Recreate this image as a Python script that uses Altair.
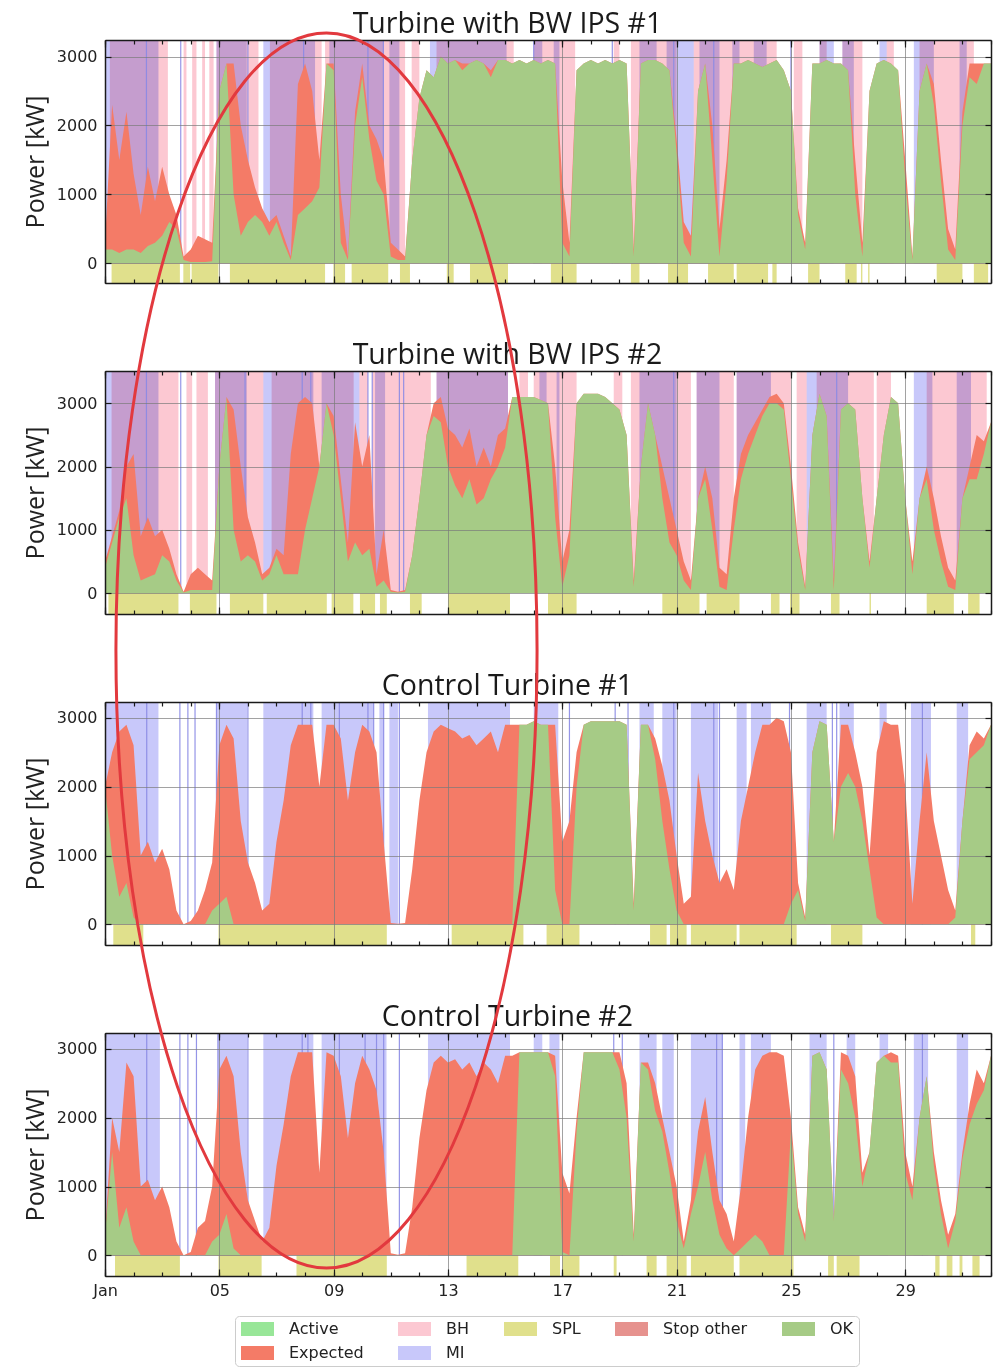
import altair as alt
import pandas as pd

# ---------------- data ----------------
N_DAYS = 31
STEP = 0.25  # 6-hourly samples, days since 1 Jan
T = [i * STEP for i in range(int(N_DAYS / STEP) + 1)]

MAJOR_DAYS = [0, 4, 8, 12, 16, 20, 24, 28]
MINOR_DAYS = list(range(0, 32))
Y_TICKS = [0, 1000, 2000, 3000]

TITLES = ["Turbine with BW IPS #1", "Turbine with BW IPS #2",
          "Control Turbine #1", "Control Turbine #2"]
Y_DOMAINS = [[-285, 3240], [-330, 3510], [-300, 3230], [-300, 3230]]

P1_EXPECTED = [
    300, 2300, 1500, 2200, 1300, 700, 1400, 900,
    1400, 1000, 700, 100, 200, 400, 350, 300,
    2500, 2900, 2900, 2000, 1500, 1100, 800, 600,
    700, 400, 100, 2600, 2900, 2500, 1500, 2900,
    2900, 1000, 100, 2200, 2900, 2000, 1800, 1500,
    300, 200, 100, 1500, 2400, 2800, 2700, 3000,
    2900, 2950, 2900, 2900, 2950, 2900, 2800, 2950,
    2950, 2900, 2950, 2900, 2950, 2900, 2950, 2900,
    1200, 300, 2800, 2900, 2950, 2900, 2950, 2900,
    2950, 2900, 200, 2900, 2950, 2950, 2900, 2800,
    1800, 600, 400, 2500, 2900, 2000, 500, 1500,
    2900, 2900, 2950, 2900, 2850, 2900, 2950, 2800,
    2500, 800, 300, 2900, 2900, 2950, 2900, 2900,
    2800, 1500, 300, 2500, 2900, 2950, 2900, 2800,
    1500, 100, 2500, 2900, 2600, 1500, 500, 200,
    2200, 2900, 2900, 2900, 2900]
P1_OK = [
    200, 200, 150, 200, 200, 150, 250, 300,
    400, 600, 500, 50, 20, 20, 20, 30,
    2500, 2900, 1000, 400, 600, 700, 600, 400,
    600, 300, 50, 700, 800, 900, 1100, 2900,
    2800, 300, 50, 2000, 2700, 1800, 1200, 1000,
    100, 50, 50, 1500, 2400, 2800, 2700, 3000,
    2900, 2950, 2800, 2900, 2950, 2900, 2700, 2950,
    2950, 2900, 2950, 2900, 2950, 2900, 2950, 2900,
    300, 100, 2800, 2900, 2950, 2900, 2950, 2900,
    2950, 2900, 100, 2900, 2950, 2950, 2900, 2800,
    1600, 300, 100, 2500, 2900, 1500, 100, 1200,
    2900, 2900, 2950, 2900, 2850, 2900, 2950, 2800,
    2500, 700, 200, 2900, 2900, 2950, 2900, 2900,
    2800, 1000, 100, 2500, 2900, 2950, 2900, 2800,
    1200, 50, 2500, 2900, 2300, 1200, 200, 50,
    2000, 2700, 2600, 2900, 2900]

P2_EXPECTED = [
    500, 900, 1300, 2000, 2200, 900, 1200, 900,
    1000, 700, 300, 20, 300, 400, 300, 200,
    2000, 3100, 2900, 2000, 1200, 800, 300, 400,
    700, 600, 2200, 3000, 3100, 3000, 2000, 3000,
    2800, 1800, 800, 2700, 2000, 2500, 300, 1000,
    50, 20, 50, 600, 1500, 2500, 3000, 3100,
    2600, 2500, 2300, 2600, 2000, 2300, 2000, 2500,
    2600, 3100, 3100, 3100, 3100, 3050, 3000, 2000,
    500, 1000, 3000, 3150, 3150, 3150, 3100, 3000,
    2900, 2500, 200, 2000, 3000, 2500, 2000, 1500,
    1000, 500, 200, 1500, 2000, 1500, 400, 300,
    1500, 2200, 2500, 2700, 2900, 3100, 3150, 3000,
    2000, 800, 100, 2500, 3150, 2800, 200, 2900,
    3000, 2900, 1500, 500, 1500, 2500, 3100, 3000,
    1500, 500, 1500, 2000, 1500, 900, 400, 200,
    1500, 2000, 2500, 2400, 2700]
P2_OK = [
    400, 800, 1200, 1500, 600, 200, 250, 300,
    600, 500, 200, 10, 50, 50, 50, 50,
    2000, 3100, 1000, 500, 600, 500, 200, 300,
    600, 300, 300, 300, 1000, 1500, 2000, 3000,
    2500, 1500, 500, 800, 600, 700, 100, 200,
    20, 10, 20, 600, 1500, 2500, 2800, 2700,
    2000, 1700, 1500, 1800, 1400, 1500, 1800, 2000,
    2300, 3100, 3100, 3100, 3100, 3050, 3000, 1200,
    100, 600, 3000, 3150, 3150, 3150, 3100, 3000,
    2900, 2500, 100, 2000, 3000, 2500, 1500, 800,
    600, 200, 50, 1500, 1800, 1000, 100, 50,
    1000, 1800, 2200, 2500, 2800, 3000, 3000, 2900,
    1800, 700, 50, 2500, 3150, 2800, 50, 2900,
    3000, 2900, 1500, 400, 1500, 2500, 3100, 3000,
    1500, 300, 1500, 1800, 1000, 500, 100, 50,
    1500, 1800, 1800, 2200, 2700]

P3_EXPECTED = [
    2000, 2500, 2800, 2900, 2600, 1000, 1200, 900,
    1100, 800, 200, 0, 50, 200, 500, 900,
    2600, 2900, 2700, 1500, 900, 600, 200, 300,
    1200, 1800, 2600, 2900, 2900, 2900, 2000, 2900,
    2900, 2700, 1800, 2500, 2900, 2800, 2500, 1200,
    20, 10, 20, 800, 1800, 2500, 2800, 2900,
    2850, 2800, 2700, 2750, 2600, 2700, 2800, 2500,
    2900, 2900, 2900, 2900, 2950, 2900, 2900, 2900,
    1200, 1500, 2500, 2900, 2950, 2950, 2950, 2950,
    2950, 2900, 300, 2900, 2900, 2700, 2300, 1800,
    1000, 300, 400, 2200, 1500, 1000, 600, 800,
    500, 1500, 2000, 2500, 2900, 2900, 3000, 2950,
    2500, 600, 100, 2500, 2950, 2900, 1200, 2900,
    2900, 2500, 2000, 1000, 2500, 2950, 2900, 2900,
    2000, 300, 1500, 2500, 1500, 1000, 500, 200,
    1500, 2600, 2800, 2700, 2900]
P3_OK = [
    2000, 1000, 400, 600, 100, 0, 0, 0,
    0, 0, 0, 0, 0, 0, 0, 200,
    300, 400, 0, 0, 0, 0, 0, 0,
    0, 0, 0, 0, 0, 0, 0, 0,
    0, 0, 0, 0, 0, 0, 0, 0,
    0, 0, 0, 0, 0, 0, 0, 0,
    0, 0, 0, 0, 0, 0, 0, 0,
    0, 0, 2900, 2900, 2950, 2900, 2900, 500,
    0, 0, 2000, 2900, 2950, 2950, 2950, 2950,
    2950, 2900, 200, 2900, 2900, 2400, 1500, 800,
    200, 0, 0, 0, 0, 0, 0, 0,
    0, 0, 0, 0, 0, 0, 0, 0,
    300, 500, 50, 2500, 2950, 2900, 1200, 2000,
    2200, 2000, 1500, 800, 100, 0, 0, 0,
    0, 0, 0, 0, 0, 0, 0, 100,
    1500, 2400, 2500, 2600, 2900]

P4_EXPECTED = [
    300, 2000, 1500, 2800, 2600, 1000, 1100, 800,
    1000, 700, 200, 0, 50, 400, 500, 1000,
    2700, 2900, 2600, 1500, 800, 500, 200, 400,
    1300, 1900, 2600, 2950, 2950, 2950, 1200, 2950,
    2900, 2600, 1700, 2500, 2900, 2700, 2400, 1500,
    30, 10, 30, 700, 1700, 2400, 2800, 2900,
    2800, 2850, 2700, 2800, 2600, 2800, 2700, 2500,
    2900, 2900, 2950, 2950, 2950, 2950, 2950, 2900,
    1200, 900, 2000, 2950, 2950, 2950, 2950, 2950,
    2950, 2500, 300, 2800, 2800, 2500, 2000, 1500,
    1000, 200, 800, 1800, 2300, 1500, 800, 600,
    200, 1000, 2000, 2700, 2900, 2950, 2950, 2900,
    2000, 700, 300, 2900, 2950, 2700, 500, 2950,
    2900, 2600, 1200, 1500, 2800, 2900, 2950, 2900,
    1500, 1000, 2000, 2600, 1500, 800, 300, 600,
    1500, 2200, 2700, 2500, 2900]
P4_OK = [
    300, 1500, 400, 700, 200, 0, 0, 0,
    0, 0, 0, 0, 0, 0, 0, 200,
    300, 600, 100, 0, 0, 0, 0, 0,
    0, 0, 0, 0, 0, 0, 0, 0,
    0, 0, 0, 0, 0, 0, 0, 0,
    0, 0, 0, 0, 0, 0, 0, 0,
    0, 0, 0, 0, 0, 0, 0, 0,
    0, 0, 2950, 2950, 2950, 2950, 2950, 2600,
    50, 0, 1800, 2950, 2950, 2950, 2950, 2950,
    2700, 2000, 200, 2800, 2700, 2100, 1800, 1200,
    500, 100, 600, 1000, 1500, 800, 300, 100,
    0, 100, 200, 300, 200, 0, 0, 0,
    1800, 600, 200, 2900, 2950, 2700, 500, 2700,
    2500, 2000, 1000, 1500, 2800, 2900, 2800, 2800,
    1200, 800, 2000, 2600, 1300, 600, 100, 500,
    1400, 1900, 2200, 2400, 2900]

# status intervals (start day, end day)
P1_BH = [(0.17, 2.2), (2.75, 2.85), (3.05, 3.2), (3.4, 3.5), (3.65, 3.8), (3.9, 5.37),
         (5.77, 7.58), (7.7, 10.5), (10.73, 11.0), (11.6, 14.3), (15.0, 16.45), (17.8, 18.0),
         (18.4, 20.0), (20.6, 23.5), (24.1, 24.4), (25.0, 25.25), (25.8, 26.5), (27.35, 27.6),
         (28.5, 30.4)]
P1_MI = [(0.0, 1.87), (3.9, 4.96), (5.54, 7.35), (7.85, 9.74), (9.95, 10.3), (11.37, 14.05),
         (15.0, 15.3), (15.7, 15.9), (18.7, 19.3), (19.65, 20.6), (20.8, 21.5), (21.95, 22.2),
         (22.7, 23.15), (25.0, 25.5), (25.8, 26.2), (27.1, 27.35), (28.3, 29.0), (29.9, 30.15)]
P1_SPL = [(0.23, 2.62), (2.74, 2.98), (3.03, 3.97), (4.37, 7.7), (7.99, 8.4), (8.63, 9.91),
          (10.32, 10.67), (11.96, 12.2), (12.77, 14.1), (15.6, 16.5), (18.4, 18.7), (19.7, 20.4),
          (21.1, 22.0), (22.1, 23.2), (23.35, 23.5), (24.6, 25.0), (25.9, 26.3), (26.45, 26.5),
          (26.7, 26.75), (29.1, 30.0), (30.4, 30.9)]
P1_MI_LINES = [1.45, 2.65, 5.0, 6.95, 9.2, 9.74, 15.0, 17.75, 19.9, 21.3, 24.0]

P2_BH = [(0.23, 2.57), (2.85, 3.05), (3.2, 3.6), (3.85, 5.54), (5.83, 8.7), (8.9, 9.2),
         (9.35, 11.4), (11.6, 14.1), (14.5, 14.8), (15.0, 16.5), (17.8, 18.1), (18.4, 20.5),
         (20.7, 22.0), (22.1, 24.0), (24.2, 24.55), (24.9, 26.9), (27.0, 27.5), (28.75, 30.85)]
P2_MI = [(0.0, 1.87), (3.85, 4.96), (5.54, 7.29), (7.58, 8.9), (9.45, 9.8), (11.6, 14.1),
         (15.2, 15.45), (15.8, 15.9), (18.7, 20.0), (20.7, 21.5), (22.1, 23.3), (24.55, 26.0),
         (28.3, 28.95), (29.8, 30.3)]
P2_SPL = [(0.12, 2.57), (2.97, 3.9), (4.37, 5.54), (5.66, 7.76), (7.93, 8.69), (8.92, 9.45),
          (9.62, 9.86), (10.67, 11.08), (12.0, 14.17), (15.5, 16.5), (19.5, 20.8), (21.05, 22.2),
          (23.3, 23.6), (23.97, 24.3), (25.4, 25.7), (26.75, 26.8), (28.75, 29.7), (30.2, 30.6)]
P2_MI_LINES = [1.45, 2.65, 4.9, 6.9, 7.2, 9.2, 9.35, 10.3, 10.45, 19.9, 25.6]

P3_BH = []
P3_MI = [(0.0, 1.87), (3.9, 4.97), (5.54, 7.29), (7.58, 9.39), (9.6, 9.75), (9.95, 10.25),
         (11.3, 14.17), (15.0, 15.86), (18.7, 19.2), (19.5, 20.0), (20.5, 21.45), (22.1, 22.45),
         (22.6, 23.3), (24.55, 25.25), (25.7, 26.2), (27.1, 27.35), (28.2, 28.9), (29.8, 30.2)]
P3_SPL = [(0.29, 1.34), (3.97, 9.86), (12.13, 14.64), (15.45, 16.6), (19.07, 19.65),
          (19.77, 20.35), (20.5, 22.1), (22.2, 24.2), (25.4, 26.5), (30.3, 30.45)]
P3_MI_LINES = [1.46, 2.62, 2.9, 3.15, 3.9, 5.0, 6.9, 7.2, 8.2, 9.2, 9.4, 9.75, 10.3, 16.25,
               17.85, 18.3, 19.9, 21.3, 21.5, 23.95, 25.45, 25.6, 28.6]

P4_BH = []
P4_MI = [(0.0, 1.92), (3.95, 4.97), (5.54, 7.29), (7.58, 9.85), (11.3, 14.17), (15.0, 15.3),
         (15.55, 15.9), (18.7, 19.3), (19.5, 19.9), (20.5, 21.6), (22.2, 22.4), (22.6, 23.3),
         (24.65, 25.25), (25.95, 26.25), (27.1, 27.4), (28.3, 28.8), (29.8, 30.2)]
P4_SPL = [(0.35, 2.62), (3.97, 5.48), (6.7, 9.86), (12.65, 14.46), (15.57, 15.92), (16.0, 16.6),
          (17.8, 17.9), (18.95, 19.3), (19.65, 20.35), (20.5, 22.0), (22.2, 24.09), (25.3, 25.5),
          (25.6, 26.4), (29.05, 29.2), (29.45, 29.65), (29.9, 30.0), (30.35, 30.6)]
P4_MI_LINES = [1.46, 2.62, 2.9, 3.2, 3.95, 5.0, 6.9, 7.1, 8.2, 9.1, 9.5, 9.75, 10.3, 17.8,
               18.1, 21.4, 21.6, 25.5, 28.6]

LEGEND_ITEMS = ["Active", "BH", "SPL", "Stop other", "OK", "Expected", "MI"]
LEGEND_COLORS = ["#98e698", "#fcc8d2", "#e0e08c", "#e6928e", "#a6cb86", "#f47b67", "#c8c8fa"]

EXPECTED = [P1_EXPECTED, P2_EXPECTED, P3_EXPECTED, P4_EXPECTED]
OK = [P1_OK, P2_OK, P3_OK, P4_OK]
BH = [P1_BH, P2_BH, P3_BH, P4_BH]
MI = [P1_MI, P2_MI, P3_MI, P4_MI]
SPL = [P1_SPL, P2_SPL, P3_SPL, P4_SPL]
MI_LINES = [P1_MI_LINES, P2_MI_LINES, P3_MI_LINES, P4_MI_LINES]

for arr in EXPECTED + OK:
    if len(arr) != len(T):
        raise ValueError("series length %d != %d" % (len(arr), len(T)))

# ---------------- styling ----------------
W, H = 886, 243
SPACING = 88
FONT = "DejaVu Sans"
TFONT = "Open Sans"
INK = "#1a1a1a"
GRID = dict(gridColor="#7a7a7a", gridOpacity=0.7, gridWidth=1)

cscale = alt.Scale(domain=LEGEND_ITEMS, range=LEGEND_COLORS)
# 14px-tall symbol slot with a 33px-wide swatch path drawn to the right of it
legend = alt.Legend(
    title=None, orient="none", legendX=130, legendY=1276,
    direction="horizontal", columns=5,
    symbolType="M-1,-1L3.714,-1L3.714,1L-1,1Z", symbolSize=196,
    symbolStrokeWidth=0, symbolOpacity=1,
    labelFont=FONT, labelFontSize=16, labelColor="#222222", labelOffset=33,
    columnPadding=33, rowPadding=8, padding=5,
    strokeColor="#cccccc", fillColor="#ffffff", cornerRadius=4,
)

tick_common = dict(labels=False, domain=False, grid=False, tickColor=INK,
                   tickWidth=1.2, title=None, zindex=1)
ax_top_minor = alt.Axis(orient="top", values=MINOR_DAYS, tickSize=4, offset=-4, **tick_common)
ax_top_major = alt.Axis(orient="top", values=MAJOR_DAYS, tickSize=7, offset=-7, **tick_common)
ax_bot_minor = alt.Axis(orient="bottom", values=MINOR_DAYS, tickSize=4, offset=-4, **tick_common)
ax_bot_major = alt.Axis(orient="bottom", values=MAJOR_DAYS, tickSize=7, offset=-7, **tick_common)
ax_left_ticks = alt.Axis(orient="left", values=Y_TICKS, tickSize=6, offset=-6, **tick_common)
ax_right_ticks = alt.Axis(orient="right", values=Y_TICKS, tickSize=6, offset=-6, **tick_common)
dom_common = dict(ticks=False, labels=False, grid=False, domain=True, domainColor=INK,
                  domainWidth=1.5, title=None, zindex=1)
ax_top_domain = alt.Axis(orient="top", **dom_common)
ax_right_domain = alt.Axis(orient="right", **dom_common)
ax_left_labels = alt.Axis(
    orient="left", values=Y_TICKS, format="d", ticks=False, domain=True, domainColor=INK,
    domainWidth=1.5, grid=True, labels=True, labelFont=FONT, labelFontSize=16,
    labelColor="#222222", labelPadding=8, title="Power [kW]", titleFont=TFONT,
    titleFontSize=25, titleFontWeight="normal", titleColor="#222222", titlePadding=8,
    zindex=1, **GRID)


def ax_bot_labels(show):
    return alt.Axis(
        orient="bottom", values=MAJOR_DAYS, ticks=False, domain=True, domainColor=INK,
        domainWidth=1.5, grid=True, labels=show, labelFlush=False, labelFont=FONT,
        labelFontSize=16, labelColor="#222222", labelPadding=6, title=None, zindex=1,
        labelExpr="datum.value == 0 ? 'Jan' : ((datum.value + 1) < 10 ? '0' : '') + (datum.value + 1)",
        **GRID)


def intervals(pairs, kind):
    return pd.DataFrame({"start": [p[0] for p in pairs],
                         "end": [p[1] for p in pairs],
                         "kind": [kind] * len(pairs)})


def make_panel(i):
    ydom = Y_DOMAINS[i]
    ys = alt.Scale(domain=ydom, nice=False, zero=False)
    xs = alt.Scale(domain=[0, N_DAYS], nice=False, zero=False)
    ts = pd.DataFrame({"t": T, "exp": EXPECTED[i], "ok": OK[i]})
    color = alt.Color("kind:N", scale=cscale, legend=legend)
    ser_color = alt.Color("series:N", scale=cscale, legend=legend)

    bh = alt.Chart(intervals(BH[i], "BH")).mark_rect(blend="multiply").encode(
        x=alt.X("start:Q", scale=xs, axis=ax_top_minor, title=None),
        x2="end:Q",
        y=alt.YDatum(0, type="quantitative", scale=ys, axis=ax_right_domain),
        y2=alt.Y2Datum(ydom[1]),
        color=color)
    mi = alt.Chart(intervals(MI[i], "MI")).mark_rect(blend="multiply").encode(
        x=alt.X("start:Q", scale=xs, axis=ax_top_major, title=None),
        x2="end:Q",
        y=alt.YDatum(0, type="quantitative", scale=ys, axis=ax_right_ticks),
        y2=alt.Y2Datum(ydom[1]),
        color=color)
    lines = alt.Chart(pd.DataFrame({"t": MI_LINES[i]})).mark_rule(
        color="#8a8ae4", strokeWidth=1.2, opacity=0.9).encode(
        x=alt.X("t:Q", scale=xs, axis=ax_bot_minor, title=None),
        y=alt.YDatum(0, type="quantitative", scale=ys, axis=None),
        y2=alt.Y2Datum(ydom[1]))
    spl = alt.Chart(intervals(SPL[i], "SPL")).mark_rect().encode(
        x=alt.X("start:Q", scale=xs, axis=ax_bot_major, title=None),
        x2="end:Q",
        y=alt.YDatum(0, type="quantitative", scale=ys, axis=None),
        y2=alt.Y2Datum(ydom[0]),
        color=color)
    exp = alt.Chart(ts).transform_calculate(series="'Expected'").mark_area(
        interpolate="linear", opacity=1).encode(
        x=alt.X("t:Q", scale=xs, axis=ax_bot_labels(i == 3), title=None),
        y=alt.Y("exp:Q", scale=ys, axis=ax_left_labels, stack=None),
        y2=alt.Y2Datum(0),
        color=ser_color)
    ok = alt.Chart(ts).transform_calculate(series="'OK'").mark_area(
        interpolate="linear", opacity=1).encode(
        x=alt.X("t:Q", scale=xs, axis=ax_top_domain, title=None),
        y=alt.Y("ok:Q", scale=ys, axis=ax_left_ticks, stack=None),
        y2=alt.Y2Datum(0),
        color=ser_color)
    return alt.layer(bh, mi, lines, spl, exp, ok).resolve_axis(
        x="independent", y="independent").properties(
        width=W, height=H,
        title=alt.TitleParams(TITLES[i], font=TFONT, fontSize=28.5, fontWeight="normal",
                              anchor="middle", frame="bounds", offset=1, color=INK))


# red hand-drawn ellipse annotation, drawn last (in an empty strip below the panels)
ELLIPSE = "M-0.341,0A0.341,1 0 1,0 0.341,0A0.341,1 0 1,0 -0.341,0Z"
ring = alt.Chart(pd.DataFrame({"k": [0]})).mark_point(
    shape=ELLIPSE, size=1525225, filled=False, stroke="#e2393e",
    strokeWidth=3, opacity=1).encode(
    x=alt.value(221.5), y=alt.value(610.5 - 4 * (H + SPACING))
).properties(width=W, height=1)

chart = alt.vconcat(*[make_panel(i) for i in range(4)], ring,
                    spacing=SPACING, bounds="flush").properties(
    padding={"left": 14, "top": 1, "right": 0, "bottom": 0}
).configure_view(stroke="transparent")

chart.save("out.html", embed_options={"renderer": "svg", "actions": False})
